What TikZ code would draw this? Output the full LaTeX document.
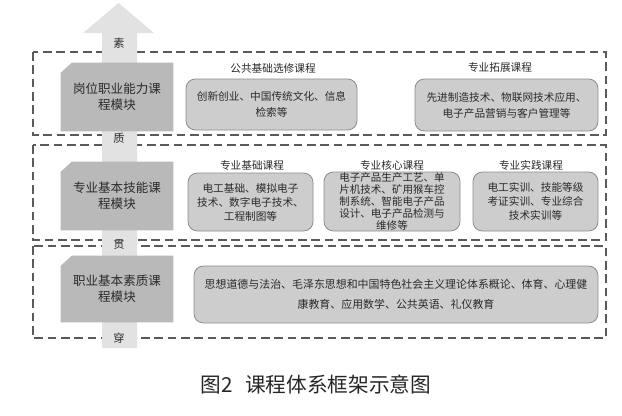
\documentclass[tikz,border=0pt]{standalone}
\usepackage{fontspec}
\setmainfont{Noto Sans CJK SC}
\usetikzlibrary{calc}
\definecolor{arrowgray}{HTML}{E2E2E2}
\definecolor{modgray}{HTML}{B9B9B9}
\definecolor{coursegray}{HTML}{CDCDCD}
\definecolor{courseedge}{HTML}{8C8C8C}
\definecolor{dashgray}{HTML}{5A5A5A}
\definecolor{txt}{HTML}{2A2A2A}
\begin{document}
\begin{tikzpicture}[x=0.75pt,y=-0.75pt,
  dbox/.style={draw=dashgray, dash pattern=on 6.5pt off 3.5pt, line width=0.8pt},
  modbox/.style={minimum width=84pt, minimum height=50pt, inner sep=0pt, align=center,
    text=txt, font=\fontsize{9.4}{12}\selectfont},
  course/.style={draw=courseedge, fill=coursegray, rounded corners=7pt, line width=0.6pt,
    inner sep=0pt, align=center, text=txt},
  head/.style={text=txt, font=\fontsize{8}{10}\selectfont},
  flow/.style={text=txt, font=\fontsize{8.4}{10}\selectfont, inner sep=1pt}]
\useasboundingbox (0,0) rectangle (622,415);
% dashed frames
\draw[dbox] (33,52) rectangle (606,135);
\draw[dbox] (33,145) rectangle (606,240);
\draw[dbox] (33,246) rectangle (606,338);
% arrow
\fill[arrowgray] (102,348) -- (102,33) -- (83,33) -- (118.5,3) -- (154,33) -- (137,33) -- (137,348) -- cycle;
\node[flow] (s1) at (119,43) {素};
\node[flow, fill=arrowgray] (s2) at (119,138) {质};
\node[flow, fill=arrowgray] (s3) at (119,244) {贯};
\node[flow, fill=arrowgray] (s4) at (119,338) {穿};
% module boxes
\node[modbox, minimum height=51pt] (m1) at (117,97) {岗位职业能力课\\程模块};
\node[modbox, minimum height=51pt] (m2) at (117,196) {专业基本技能课\\程模块};
\node[modbox, minimum height=49.5pt] (m3) at (117,289) {职业基本素质课\\程模块};
\foreach \m in {m1,m2,m3}{
  \fill[modgray] (\m.south west) -- ($(\m.north west)+(0,10)$) -- ($(\m.north west)+(11,0)$)
    -- (\m.north east) -- (\m.south east) -- cycle;
}
\node[modbox, minimum height=51pt] at (m1) {岗位职业能力课\\程模块};
\node[modbox, minimum height=51pt] at (m2) {专业基本技能课\\程模块};
\node[modbox, minimum height=49.5pt] at (m3) {职业基本素质课\\程模块};
% row 1
\node[course, minimum width=128.25pt, minimum height=38.25pt, font=\fontsize{8}{12}\selectfont] (c11) at (271.5,104.5)
  {创新创业、中国传统文化、信息\\检索等};
\node[head] (h11) at (273,68) {公共基础选修课程};
\node[course, minimum width=137.25pt, minimum height=39pt, font=\fontsize{8}{12}\selectfont] (c12) at (506.5,105)
  {先进制造技术、物联网技术应用、\\电子产品营销与客户管理等};
\node[head] (h12) at (500,67) {专业拓展课程};
% row 2
\node[course, minimum width=93.75pt, minimum height=43.5pt, font=\fontsize{8}{10.5}\selectfont] (c21) at (250.5,202)
  {电工基础、模拟电子\\技术、数字电子技术、\\工程制图等};
\node[head] (h21) at (252,165) {专业基础课程};
\node[course, minimum width=102pt, minimum height=44.25pt, font=\fontsize{7.9}{8.9}\selectfont] (c22) at (392,201.5)
  {电子产品生产工艺、单\\片机技术、矿用猴车控\\制系统、智能电子产品\\设计、电子产品检测与\\维修等};
\node[head] (h22) at (392,165) {专业核心课程};
\node[course, minimum width=93.75pt, minimum height=44.25pt, font=\fontsize{8}{10.5}\selectfont] (c23) at (535.5,201.5)
  {电工实训、技能等级\\考证实训、专业综合\\技术实训等};
\node[head] (h23) at (531,165) {专业实践课程};
% row 3
\node[course, minimum width=303pt, minimum height=42.75pt, font=\fontsize{8.2}{15}\selectfont] (c3) at (396,294.5)
  {思想道德与法治、毛泽东思想和中国特色社会主义理论体系概论、体育、心理健\\康教育、应用数学、公共英语、礼仪教育};
% caption
\node[text=black!85, font=\fontsize{15.5}{18}\selectfont] (cap) at (316,385) {图2\hspace{0.6em}课程体系框架示意图};
\end{tikzpicture}
\end{document}
